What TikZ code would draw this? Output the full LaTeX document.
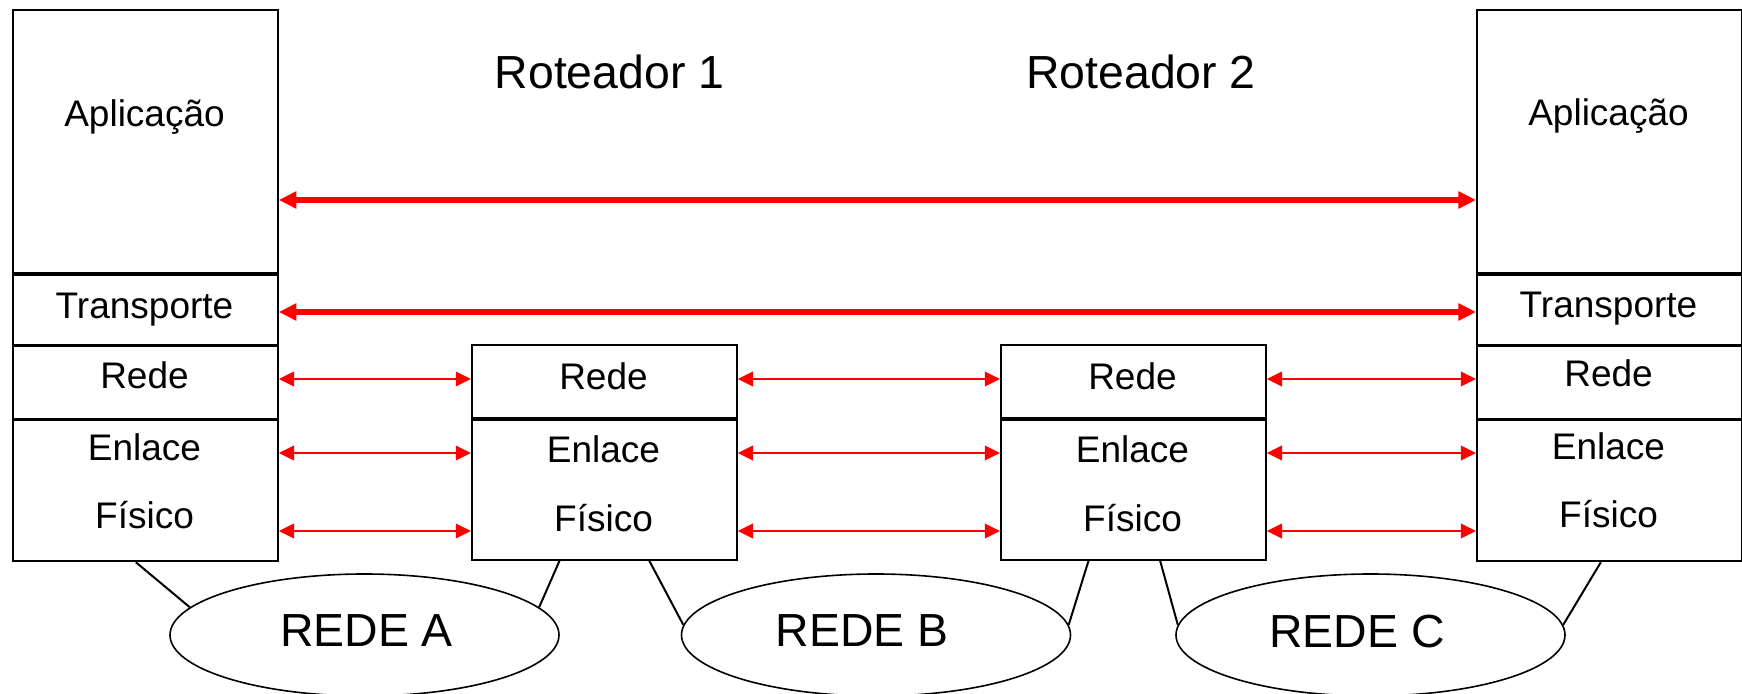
\documentclass[tikz,border=0pt]{standalone}
\usepackage{fontspec}
\setmainfont{Liberation Sans}
\usetikzlibrary{arrows.meta,shapes.geometric,calc}

\tikzset{
  layer/.style={draw, line width=0.9pt, rectangle, inner sep=0pt, minimum width=132.5pt, anchor=north west},
  lbl/.style={font=\fontsize{18.5pt}{20pt}\selectfont, anchor=base, inner sep=0pt},
  title/.style={font=\fontsize{23.2pt}{26pt}\selectfont, anchor=base, inner sep=0pt},
  net/.style={draw, ellipse, line width=0.8pt, minimum width=194.5pt, minimum height=61pt, inner sep=0pt},
  peer/.style={red, line width=2.6pt, {Triangle[length=8.8pt,width=8.2pt]}-{Triangle[length=8.8pt,width=8.2pt]}},
  hop/.style={red, line width=1pt, {Triangle[length=7.6pt,width=7.3pt]}-{Triangle[length=7.6pt,width=7.3pt]}},
  wire/.style={line width=1pt}
}

\begin{document}
\begin{tikzpicture}[x=0.5pt, y=-0.5pt]
		\useasboundingbox (0,0) rectangle (1742,694);
		% host on the left
		\node[layer, minimum height=131.5pt] (appSrc) at (12,9) {};
		\node[layer, minimum height=35pt] (trSrc) at (appSrc.south west) {};
		\node[layer, minimum height=36pt] (nwSrc) at (trSrc.south west) {};
		\node[layer, minimum height=70.5pt] (lkSrc) at (nwSrc.south west) {};
		% host on the right
		\node[layer, minimum height=131.5pt] (appDst) at (1476,9) {};
		\node[layer, minimum height=35pt] (trDst) at (appDst.south west) {};
		\node[layer, minimum height=36pt] (nwDst) at (trDst.south west) {};
		\node[layer, minimum height=70.5pt] (lkDst) at (nwDst.south west) {};
		% routers
		\node[layer, minimum height=36.5pt] (nwRa) at (471,344) {};
		\node[layer, minimum height=70pt] (lkRa) at (nwRa.south west) {};
		\node[layer, minimum height=36.5pt] (nwRb) at (1000,344) {};
		\node[layer, minimum height=70pt] (lkRb) at (nwRb.south west) {};
		% texts
		\node[lbl] (tAppSrc) at (144.5,127) {Aplicação};
		\node[lbl] (tTrSrc) at (144.5,319) {Transporte};
		\node[lbl] (tNwSrc) at (144.5,389) {Rede};
		\node[lbl] (tLkSrc) at (144.5,461) {Enlace};
		\node[lbl] (tPhSrc) at (144.5,529) {Físico};
		\node[lbl] (tAppDst) at (1608.5,126) {Aplicação};
		\node[lbl] (tTrDst) at (1608.5,318) {Transporte};
		\node[lbl] (tNwDst) at (1608.5,387) {Rede};
		\node[lbl] (tLkDst) at (1608.5,460) {Enlace};
		\node[lbl] (tPhDst) at (1608.5,528) {Físico};
		\node[lbl] (tNwRa) at (603.5,390) {Rede};
		\node[lbl] (tLkRa) at (603.5,463) {Enlace};
		\node[lbl] (tPhRa) at (603.5,532) {Físico};
		\node[lbl] (tNwRb) at (1132.5,390) {Rede};
		\node[lbl] (tLkRb) at (1132.5,463) {Enlace};
		\node[lbl] (tPhRb) at (1132.5,532) {Físico};
		\node[title] (tRa) at (609.5,89) {Roteador 1};
		\node[title] (tRb) at (1141,89) {Roteador 2};
		% networks
		\node[net] (netA) at (364.5,635) {};
		\node[net] (netB) at (876,635) {};
		\node[net] (netC) at (1370.5,635) {};
		\node[title] (tNetA) at (366.5,647) {REDE A};
		\node[title] (tNetB) at (862,647) {REDE B};
		\node[title] (tNetC) at (1357,648) {REDE C};
		% rows of the arrows
		\coordinate (rowApp) at (0,200);
		\coordinate (rowTr) at (0,312);
		\coordinate (rowNw) at (0,379);
		\coordinate (rowLk) at (0,453);
		\coordinate (rowPh) at (0,531);
		\draw[peer] (appSrc.east |- rowApp) -- (appDst.west |- rowApp);
		\draw[peer] (trSrc.east |- rowTr) -- (trDst.west |- rowTr);
		\foreach \a/\b in {Src/Ra, Ra/Rb, Rb/Dst} {
			\draw[hop] (nw\a.east |- rowNw) -- (nw\b.west |- rowNw);
			\draw[hop] (lk\a.east |- rowLk) -- (lk\b.west |- rowLk);
			\draw[hop] (lk\a.east |- rowPh) -- (lk\b.west |- rowPh);
		}
		% wires to the networks
		\draw[wire] ($(lkSrc.south west)!0.464!(lkSrc.south east)$) -- (netA.171);
		\draw[wire] ($(lkRa.south west)!0.332!(lkRa.south east)$) -- (netA.9);
		\draw[wire] ($(lkRa.south west)!0.668!(lkRa.south east)$) -- (netB.177);
		\draw[wire] ($(lkRb.south west)!0.332!(lkRb.south east)$) -- (netB.3);
		\draw[wire] ($(lkRb.south west)!0.6!(lkRb.south east)$) -- (netC.177);
		\draw[wire] ($(lkDst.south west)!0.468!(lkDst.south east)$) -- (netC.3);
	\end{tikzpicture}
\end{document}
